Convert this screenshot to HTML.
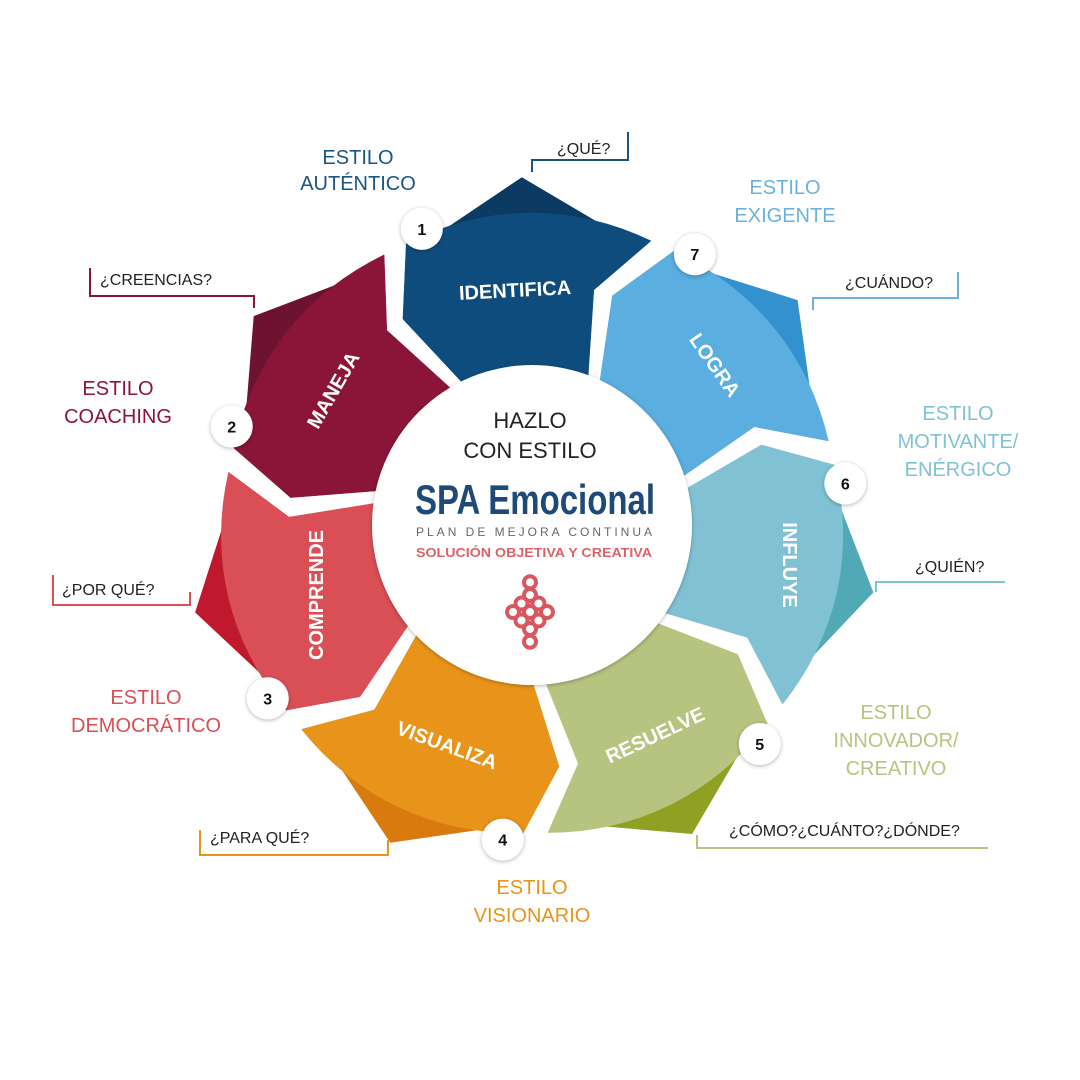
<!DOCTYPE html>
<html><head><meta charset="utf-8"><style>
html,body{margin:0;padding:0;background:#fff;}
svg{display:block;}
text{font-family:"Liberation Sans",sans-serif;}
</style></head><body>
<svg id="s" width="1080" height="1080" viewBox="0 0 1080 1080" xmlns="http://www.w3.org/2000/svg">
<defs>
<filter id="sh" x="-30%" y="-30%" width="160%" height="160%"><feDropShadow dx="0" dy="1" stdDeviation="2" flood-color="#000" flood-opacity="0.3"/></filter>
</defs>
<g id="dark"></g>
<g id="segs"></g>
<circle cx="532" cy="525" r="160" fill="#fff" filter="url(#sh)"/>
<g id="badges"></g>
<g id="labels" font-weight="bold" fill="#fff" font-size="20" text-anchor="middle"></g>

<g text-anchor="middle">
<text x="530" y="428" font-size="22" fill="#222">HAZLO</text>
<text x="530" y="458" font-size="22" fill="#222">CON ESTILO</text>
<text x="535" y="514" font-size="42" font-weight="bold" fill="#1f4a78" font-family="Liberation Sans Narrow, Liberation Sans, sans-serif" textLength="240" lengthAdjust="spacingAndGlyphs">SPA Emocional</text>
<text x="534" y="536" font-size="12" fill="#666" textLength="236" lengthAdjust="spacing">PLAN DE MEJORA CONTINUA</text>
<text x="534" y="557" font-size="12.5" font-weight="bold" fill="#d9636a" textLength="236" lengthAdjust="spacingAndGlyphs">SOLUCIÓN OBJETIVA Y CREATIVA</text>
</g>
<g transform="translate(530,612) rotate(45)" fill="none" stroke="#d9575f" stroke-width="4">
<circle cx="-12" cy="-12" r="6"/><circle cx="0" cy="-12" r="6"/><circle cx="12" cy="-12" r="6"/>
<circle cx="-12" cy="0" r="6"/><circle cx="0" cy="0" r="6"/><circle cx="12" cy="0" r="6"/>
<circle cx="-12" cy="12" r="6"/><circle cx="0" cy="12" r="6"/><circle cx="12" cy="12" r="6"/>
<circle cx="-21" cy="-21" r="6"/><circle cx="21" cy="21" r="6"/>
</g>

<g text-anchor="middle" font-size="20">
<text x="358" y="164" fill="#1a5580">ESTILO</text><text x="358" y="190" fill="#1a5580">AUTÉNTICO</text>
<text x="785" y="194" fill="#6ab2dc">ESTILO</text><text x="785" y="222" fill="#6ab2dc">EXIGENTE</text>
<text x="958" y="420" fill="#7fc2d4">ESTILO</text><text x="958" y="448" fill="#7fc2d4">MOTIVANTE/</text><text x="958" y="476" fill="#7fc2d4">ENÉRGICO</text>
<text x="896" y="719" fill="#b7c47f">ESTILO</text><text x="896" y="747" fill="#b7c47f">INNOVADOR/</text><text x="896" y="775" fill="#b7c47f">CREATIVO</text>
<text x="532" y="894" fill="#e8941a">ESTILO</text><text x="532" y="922" fill="#e8941a">VISIONARIO</text>
<text x="146" y="704" fill="#d94f55">ESTILO</text><text x="146" y="732" fill="#d94f55">DEMOCRÁTICO</text>
<text x="118" y="395" fill="#8b1538">ESTILO</text><text x="118" y="423" fill="#8b1538">COACHING</text>
</g>
<g font-size="16" fill="#222">
<text x="557" y="154">¿QUÉ?</text>
<text x="100" y="285">¿CREENCIAS?</text>
<text x="62" y="595">¿POR QUÉ?</text>
<text x="845" y="288">¿CUÁNDO?</text>
<text x="915" y="572">¿QUIÉN?</text>
<text x="210" y="843">¿PARA QUÉ?</text>
<text x="729" y="836">¿CÓMO?¿CUÁNTO?¿DÓNDE?</text>
</g>
<g fill="none" stroke-width="2">
<polyline points="532,172 532,160 628,160 628,132" stroke="#1a5580"/>
<polyline points="90,268 90,296 254,296 254,308" stroke="#8b1538"/>
<polyline points="53,575 53,605 190,605 190,592" stroke="#d94f55"/>
<polyline points="813,310 813,298 958,298 958,272" stroke="#6ab2dc"/>
<polyline points="876,592 876,582 1005,582" stroke="#7fc2d4"/>
<polyline points="200,830 200,855 388,855 388,840" stroke="#e8941a"/>
<polyline points="697,835 697,848 988,848" stroke="#b7c47f"/>
</g>
</svg>
<script>
(function(){
var NS="http://www.w3.org/2000/svg";
var cx=532,cy=525;
function P(t,r){var a=t*Math.PI/180;return [cx+r*Math.sin(a),cy-r*Math.cos(a)];}
function f(p){return p[0].toFixed(1)+","+p[1].toFixed(1);}
var step=360/7;
var segs=[
 {n:"IDENTIFICA",c:"#0f4c7e",d:"#0b3a62",b:"1"},
 {n:"LOGRA",c:"#5aaee0",d:"#3391cf",b:"7"},
 {n:"INFLUYE",c:"#80c2d4",d:"#52a9b6",b:"6"},
 {n:"RESUELVE",c:"#b7c47f",d:"#8fa023",b:"5"},
 {n:"VISUALIZA",c:"#e8941a",d:"#d97a0e",b:"4"},
 {n:"COMPRENDE",c:"#d94f55",d:"#c0182d",b:"3"},
 {n:"MANEJA",c:"#8b1538",d:"#6d1230",b:"2"}
];
var labelPos=[[515,290,-3],[715,365,55],[790,565,90],[655,735,-25],[447,745,20],[316,595,-90],[333,390,-60]];
var g=2.3, R=308, Rm=243, Ri=150;
var dark=document.getElementById("dark"),sg=document.getElementById("segs"),bg=document.getElementById("badges"),lg=document.getElementById("labels");
for(var i=0;i<7;i++){
 var B0=-27.4+i*step, B1=B0+step, tc=B0+step/2;
 var s=segs[i];
 var dp=document.createElementNS(NS,"polygon");
 dp.setAttribute("points",[P(tc-21,300),P(tc,348),P(tc+21,300),P(tc+10,230),P(tc-10,230)].map(f).join(" "));
 dp.setAttribute("fill",s.d);dark.appendChild(dp);
 var pts=[P(B0+g,Ri),P(B0-7+g,Rm),P(B0+1+g,R)];
 for(var k=1;k<16;k++){var t=B0+1+g+(B1-B0-2*g)*k/16;pts.push(P(t,R+4*Math.sin(Math.PI*k/16)));}
 pts.push(P(B1+1-g,R),P(B1-7-g,Rm),P(B1-g,Ri));
 var pp=document.createElementNS(NS,"polygon");
 pp.setAttribute("points",pts.map(f).join(" "));
 pp.setAttribute("fill",s.c);pp.setAttribute("stroke",s.c);pp.setAttribute("stroke-width","0.5");
 sg.appendChild(pp);
 var bp=P(B0+7,316);
 var c=document.createElementNS(NS,"circle");
 c.setAttribute("cx",bp[0]);c.setAttribute("cy",bp[1]);c.setAttribute("r",21);
 c.setAttribute("fill","#fff");c.setAttribute("filter","url(#sh)");bg.appendChild(c);
 var t=document.createElementNS(NS,"text");
 t.setAttribute("x",bp[0]);t.setAttribute("y",bp[1]+6);t.setAttribute("text-anchor","middle");
 t.setAttribute("font-size","16");t.setAttribute("font-weight","bold");t.setAttribute("fill","#111");
 t.textContent=s.b;bg.appendChild(t);
 var L=labelPos[i];
 var lt=document.createElementNS(NS,"text");
 lt.setAttribute("transform","translate("+L[0]+","+L[1]+") rotate("+L[2]+")");
 lt.setAttribute("y","7");lt.textContent=s.n;lg.appendChild(lt);
}
})();
</script>
</body></html>
